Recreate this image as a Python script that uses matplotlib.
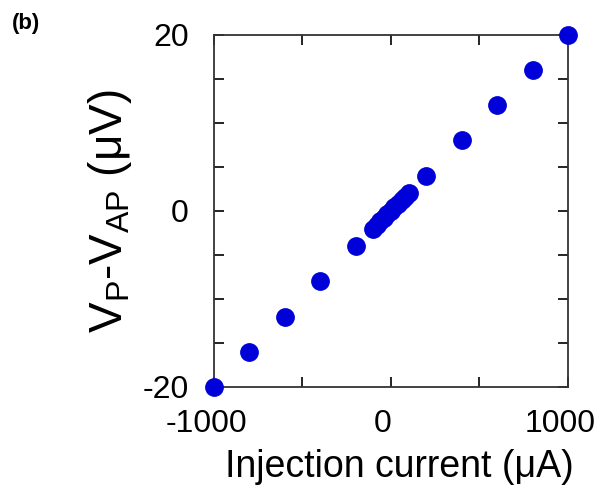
import matplotlib
matplotlib.use('Agg')
import matplotlib.pyplot as plt
import matplotlib.transforms as mtransforms
import numpy as np

plt.rcParams['font.family'] = ['Liberation Sans', 'DejaVu Sans']

# injection current (uA) and voltage difference (uV)
current = [-1000, -800, -600, -400, -200, -100, -80, -60, -40, -20, 0,
           20, 40, 60, 80, 100, 200, 400, 600, 800, 1000]
voltage = [-20, -16, -12, -8, -4, -2, -1.6, -1.2, -0.8, -0.4, 0,
           0.4, 0.8, 1.2, 1.6, 2, 4, 8, 12, 16, 20]

xticks = [-1000, -500, 0, 500, 1000]
xlabels = ['-1000', '', '0', '', '1000']
yticks = [-20, -15, -10, -5, 0, 5, 10, 15, 20]
ylabels = ['-20', '', '', '', '0', '', '', '', '20']

fig = plt.figure(figsize=(6.01, 4.98), dpi=100)
ax = fig.add_axes([0.356, 0.223, 0.589, 0.707])

ax.plot(current, voltage, 'o', color='#0000d8', markersize=12.5, clip_on=False, zorder=3)

ax.set_xlim(-1000, 1000)
ax.set_ylim(-20, 20)
ax.set_xticks(xticks)
ax.set_xticklabels(xlabels)
ax.set_yticks(yticks)
ax.set_yticklabels(ylabels)
ax.tick_params(direction='in', length=7, width=1.2, labelsize=23, top=True, right=True)
ax.tick_params(axis='y', pad=18)
ax.tick_params(axis='x', pad=16)
for s in ax.spines.values():
    s.set_linewidth(1.3)
    s.set_color('#333333')

# nudge x tick labels a little to the left, as in the original
shift = mtransforms.ScaledTranslation(-8 / 100, 0, fig.dpi_scale_trans)
for lbl in ax.get_xticklabels():
    lbl.set_transform(lbl.get_transform() + shift)

ax.set_xlabel('Injection current (\u03bcA)', fontsize=27)
ax.xaxis.set_label_coords(0.525, -0.175)
ax.set_ylabel('V$_\\mathregular{P}$-V$_\\mathregular{AP}$ (\u03bcV)', fontsize=33, labelpad=6)

fig.text(0.02, 0.952, '(b)', fontsize=16, fontweight='bold', ha='left', va='center')

plt.savefig('out.png', dpi=100)
plt.close()
